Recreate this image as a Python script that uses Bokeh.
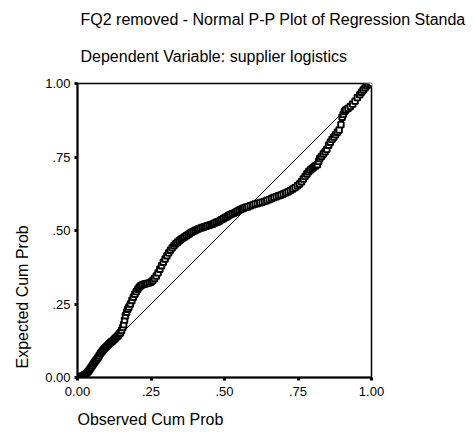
from bokeh.plotting import figure
from bokeh.models import Range1d, FixedTicker, Title
from bokeh.embed import file_html
from bokeh.resources import INLINE

title_text = "FQ2 removed - Normal P-P Plot of Regression Standa"
subtitle_text = "Dependent Variable: supplier logistics"
x_label = "Observed Cum Prob"
y_label = "Expected Cum Prob"

tick_values = [0.0, 0.25, 0.5, 0.75, 1.0]
tick_labels = ["0.00", ".25", ".50", ".75", "1.00"]

ref_line = [0.0, 1.0]

observed = [0.002, 0.005, 0.008, 0.012, 0.015, 0.018, 0.022, 0.026, 0.030, 0.034,
            0.038, 0.042, 0.046, 0.050, 0.054, 0.058, 0.062, 0.066, 0.070, 0.074,
            0.078, 0.082, 0.086, 0.090, 0.094, 0.098, 0.102, 0.106, 0.110, 0.114,
            0.118, 0.122, 0.126, 0.130, 0.134, 0.138, 0.142, 0.146, 0.150, 0.154,
            0.157, 0.160, 0.163, 0.167, 0.171, 0.175, 0.180, 0.185, 0.190, 0.195,
            0.200, 0.205, 0.210, 0.215, 0.220, 0.226, 0.232, 0.238, 0.244, 0.250,
            0.256, 0.262, 0.268, 0.274, 0.280, 0.286, 0.292, 0.298, 0.304, 0.310,
            0.316, 0.322, 0.328, 0.334, 0.340, 0.346, 0.352, 0.358, 0.364, 0.370,
            0.376, 0.382, 0.388, 0.394, 0.400, 0.406, 0.412, 0.418, 0.424, 0.430,
            0.436, 0.442, 0.448, 0.454, 0.460, 0.466, 0.472, 0.478, 0.484, 0.490,
            0.496, 0.502, 0.508, 0.514, 0.520, 0.526, 0.532, 0.538, 0.544, 0.550,
            0.556, 0.562, 0.568, 0.574, 0.580, 0.588, 0.596, 0.604, 0.612, 0.620,
            0.628, 0.636, 0.644, 0.652, 0.660, 0.668, 0.676, 0.684, 0.692, 0.700,
            0.708, 0.716, 0.724, 0.732, 0.740, 0.748, 0.755, 0.762, 0.768, 0.774,
            0.780, 0.786, 0.792, 0.798, 0.804, 0.810, 0.816, 0.820, 0.824, 0.830,
            0.836, 0.842, 0.848, 0.854, 0.860, 0.866, 0.872, 0.878, 0.884, 0.890,
            0.896, 0.900, 0.904, 0.908, 0.912, 0.920, 0.928, 0.936, 0.944, 0.952,
            0.960, 0.966, 0.972, 0.978, 0.984, 0.990, 0.996, 1.000]

expected = [0.000, 0.001, 0.002, 0.003, 0.004, 0.006, 0.008, 0.010, 0.014, 0.018,
            0.022, 0.028, 0.034, 0.040, 0.046, 0.052, 0.057, 0.063, 0.068, 0.075,
            0.082, 0.087, 0.092, 0.097, 0.101, 0.105, 0.109, 0.113, 0.117, 0.120,
            0.123, 0.127, 0.131, 0.135, 0.139, 0.143, 0.148, 0.152, 0.160, 0.170,
            0.180, 0.195, 0.210, 0.222, 0.232, 0.240, 0.250, 0.262, 0.273, 0.283,
            0.292, 0.300, 0.307, 0.312, 0.315, 0.317, 0.319, 0.320, 0.322, 0.325,
            0.330, 0.337, 0.345, 0.356, 0.368, 0.380, 0.392, 0.403, 0.414, 0.424,
            0.433, 0.441, 0.448, 0.455, 0.460, 0.465, 0.470, 0.474, 0.478, 0.482,
            0.486, 0.490, 0.494, 0.497, 0.500, 0.503, 0.506, 0.508, 0.510, 0.512,
            0.514, 0.516, 0.518, 0.520, 0.522, 0.525, 0.528, 0.530, 0.533, 0.537,
            0.540, 0.544, 0.547, 0.551, 0.554, 0.557, 0.559, 0.562, 0.566, 0.569,
            0.572, 0.575, 0.577, 0.579, 0.581, 0.584, 0.587, 0.590, 0.592, 0.594,
            0.596, 0.599, 0.602, 0.605, 0.609, 0.612, 0.615, 0.618, 0.621, 0.624,
            0.628, 0.632, 0.636, 0.641, 0.646, 0.652, 0.658, 0.666, 0.675, 0.684,
            0.692, 0.700, 0.706, 0.711, 0.716, 0.720, 0.724, 0.735, 0.745, 0.752,
            0.760, 0.768, 0.776, 0.790, 0.800, 0.810, 0.818, 0.826, 0.834, 0.842,
            0.860, 0.885, 0.895, 0.905, 0.910, 0.915, 0.922, 0.930, 0.940, 0.952,
            0.962, 0.970, 0.978, 0.985, 0.992, 0.997, 1.000, 1.000]

FONT = "Liberation Sans"

p = figure(width=475, height=438, x_range=Range1d(0, 1), y_range=Range1d(0, 1),
           output_backend="svg", toolbar_location=None,
           min_border_left=77, min_border_right=104, min_border_top=83, min_border_bottom=61)
p.background_fill_color = "white"
p.border_fill_color = "white"
p.grid.visible = False
p.outline_line_color = "black"
p.outline_line_width = 1.5

for ax in (p.xaxis[0], p.yaxis[0]):
    ax.ticker = FixedTicker(ticks=tick_values)
    ax.major_label_overrides = {v: s for v, s in zip(tick_values, tick_labels)}
    ax.axis_line_color = "black"
    ax.axis_line_width = 2
    ax.major_tick_line_color = "black"
    ax.major_tick_line_width = 3
    ax.major_tick_out = 3
    ax.major_tick_in = 0
    ax.minor_tick_line_color = None
    ax.major_label_text_font = FONT
    ax.major_label_text_font_size = "13px"
    ax.major_label_text_color = "black"
p.xaxis[0].major_label_standoff = 6
p.yaxis[0].major_label_standoff = 4

p.line(ref_line, ref_line, line_color="black", line_width=1)
p.scatter(observed, expected, marker="square", size=5.5, fill_color="white",
          line_color="black", line_width=1.9)

p.add_layout(Title(text=subtitle_text, align="left", offset=3, standoff=37,
                   text_font=FONT, text_font_size="16px", text_font_style="normal",
                   text_color="black"), "above")
p.add_layout(Title(text=title_text, align="left", offset=3, standoff=0,
                   text_font=FONT, text_font_size="16px", text_font_style="normal",
                   text_color="black"), "above")
p.add_layout(Title(text=x_label, align="left", offset=0, standoff=21,
                   text_font=FONT, text_font_size="16px", text_font_style="normal",
                   text_color="black"), "below")
p.add_layout(Title(text=y_label, align="left", offset=9, standoff=23,
                   text_font=FONT, text_font_size="16px", text_font_style="normal",
                   text_color="black"), "left")

open("out.html", "w").write(file_html(p, INLINE))
